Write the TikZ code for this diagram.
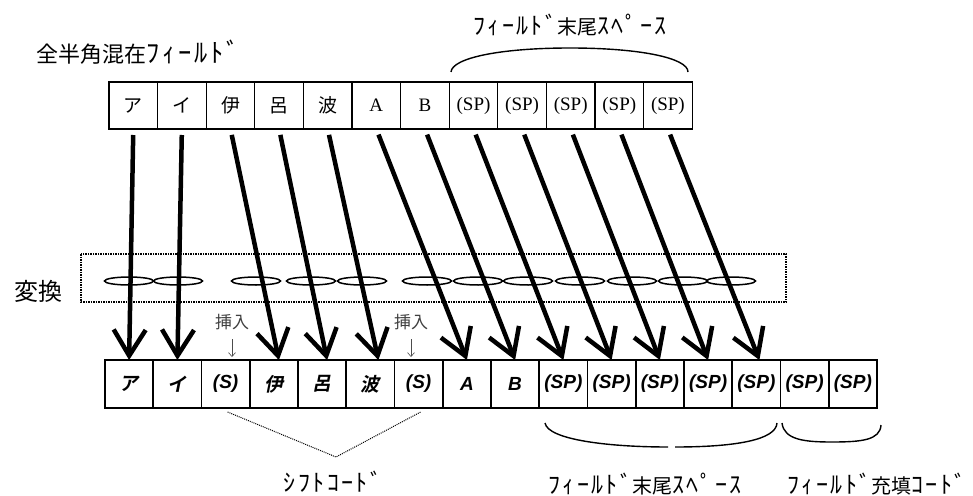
\documentclass[tikz,border=0pt]{standalone}
\usepackage{fontspec}
\setmainfont{Liberation Serif}
\newfontfamily\jp{Noto Sans CJK JP}
\newfontfamily\jpb{Noto Sans CJK JP}[UprightFont=* Bold,FakeSlant=0.2]
\newfontfamily\hwfont{Noto Sans CJK JP}[Scale=1.2,LetterSpace=10]
\newfontfamily\goth{Liberation Sans}
\newcommand{\hw}[1]{{\hwfont #1}}
\newcommand{\latbi}[1]{{\goth\bfseries\itshape #1}}
\usetikzlibrary{arrows.meta}

\begin{document}
\begin{tikzpicture}[x=1pt,y=-1pt,
  topcell/.style={draw,line width=1.3pt,minimum width=48.6pt,minimum height=47pt,inner sep=0pt,outer sep=0pt,font=\fontsize{19}{22}\selectfont},
  botcell/.style={draw,line width=1.5pt,minimum width=48.25pt,minimum height=48pt,inner sep=0pt,outer sep=0pt,font=\jpb\fontsize{19}{22}\selectfont},
  conv/.style={line width=4.5pt,shorten <=6pt,-{Straight Barb[length=26pt,width=32pt]}},
  insarrow/.style={line width=0.6pt,black!70,-{Straight Barb[length=4pt,width=7pt]}},
  oval/.style={line width=1.5pt},
  curl/.style={line width=1.4pt},
  lbl/.style={inner sep=0pt,font=\jp\fontsize{20}{24}\selectfont}]
  \useasboundingbox (0,0) rectangle (973,495);

  % top
  %cells
  \node[topcell,at={(133.3,105.5)}] (t1) {\jp ア};
  \node[topcell,at={(181.9,105.5)}] (t2) {\jp イ};
  \node[topcell,at={(230.5,105.5)}] (t3) {\jp 伊};
  \node[topcell,at={(279.1,105.5)}] (t4) {\jp 呂};
  \node[topcell,at={(327.7,105.5)}] (t5) {\jp 波};
  \node[topcell,at={(376.3,105.5)}] (t6) {A};
  \node[topcell,at={(424.9,105.5)}] (t7) {B};
  \node[topcell,at={(473.5,105.5)}] (t8) {(SP)};
  \node[topcell,at={(522.1,105.5)}] (t9) {(SP)};
  \node[topcell,at={(570.7,105.5)}] (t10) {(SP)};
  \node[topcell,at={(619.3,105.5)}] (t11) {(SP)};
  \node[topcell,at={(667.9,105.5)}] (t12) {(SP)};
  %labels
  \node[lbl,at={(138,52)},font=\jp\fontsize{22}{26}\selectfont] (mixlbl) {全半角混在\hw{ﾌｨｰﾙﾄﾞ}};
  \node[lbl,at={(570,25)}] (toptail) {\hw{ﾌｨｰﾙﾄﾞ}末尾\hw{ｽﾍﾟｰｽ}};
  \draw[curl] (451,72) .. controls (452,58) and (500,48) .. (570,48) .. controls (640,48) and (688,58) .. (688,72);

  % middle
  \draw[densely dotted,line width=1.5pt] (81,254) rectangle (786,302);
  \node[lbl,at={(38,291)},font=\jp\fontsize{24}{28}\selectfont] (conv) {変換};
  %ovals
  \draw[oval] (129,281) ellipse (24.5 and 4);
  \draw[oval] (178,281) ellipse (24.5 and 4);
  \draw[oval] (256,281) ellipse (24.5 and 4);
  \draw[oval] (311,281) ellipse (24.5 and 4);
  \draw[oval] (362,281) ellipse (24.5 and 4);
  \draw[oval] (427,281) ellipse (24.5 and 4);
  \draw[oval] (478,281) ellipse (24.5 and 4);
  \draw[oval] (528,281) ellipse (24.5 and 4);
  \draw[oval] (580,281) ellipse (24.5 and 4);
  \draw[oval] (632,281) ellipse (24.5 and 4);
  \draw[oval] (683,281) ellipse (24.5 and 4);
  \draw[oval] (731,281) ellipse (24.5 and 4);

  % bottom
  %cells
  \node[botcell,at={(129.1,384)}] (b1) {ア};
  \node[botcell,at={(177.4,384)}] (b2) {イ};
  \node[botcell,at={(225.6,384)}] (b3) {\latbi{(S)}};
  \node[botcell,at={(273.9,384)}] (b4) {伊};
  \node[botcell,at={(322.1,384)}] (b5) {呂};
  \node[botcell,at={(370.4,384)}] (b6) {波};
  \node[botcell,at={(418.6,384)}] (b7) {\latbi{(S)}};
  \node[botcell,at={(466.9,384)}] (b8) {\latbi{A}};
  \node[botcell,at={(515.1,384)}] (b9) {\latbi{B}};
  \node[botcell,at={(563.4,384)}] (b10) {\latbi{(SP)}};
  \node[botcell,at={(611.6,384)}] (b11) {\latbi{(SP)}};
  \node[botcell,at={(659.9,384)}] (b12) {\latbi{(SP)}};
  \node[botcell,at={(708.1,384)}] (b13) {\latbi{(SP)}};
  \node[botcell,at={(756.4,384)}] (b14) {\latbi{(SP)}};
  \node[botcell,at={(804.6,384)}] (b15) {\latbi{(SP)}};
  \node[botcell,at={(852.9,384)}] (b16) {\latbi{(SP)}};
  %inserts
  \node[lbl,at={(232,322)},font=\jp\fontsize{17}{20}\selectfont,black!75] (ins1) {挿入};
  \node[lbl,at={(411,322)},font=\jp\fontsize{17}{20}\selectfont,black!75] (ins2) {挿入};
  \coordinate (ins1tip) at (232,357);
  \coordinate (ins2tip) at (411,357);
  \draw[insarrow] ([yshift=-9pt]ins1.south) -- (ins1tip);
  \draw[insarrow] ([yshift=-9pt]ins2.south) -- (ins2tip);
  %labels
  \node[lbl,at={(333,482)}] (shiftlbl) {\hw{ｼﾌﾄｺｰﾄﾞ}};
  \node[lbl,at={(645,484)}] (taillbl) {\hw{ﾌｨｰﾙﾄﾞ}末尾\hw{ｽﾍﾟｰｽ}};
  \node[lbl,at={(877,484)}] (filllbl) {\hw{ﾌｨｰﾙﾄﾞ}充填\hw{ｺｰﾄﾞ}};
  \coordinate (shiftapex) at (336,457);
  \draw[densely dotted,line width=1pt] ([xshift=2pt,yshift=-4pt]b3.south) -- (shiftapex) -- ([xshift=2pt,yshift=-4pt]b7.south);
  \draw[curl] (545,423) .. controls (548,440) and (610,447) .. (668,447);
  \draw[curl] (675,447) .. controls (735,447) and (776,440) .. (777,423);
  \draw[curl] (782,423) .. controls (784,440) and (805,442) .. (832,442) .. controls (862,442) and (880,440) .. (881,425);

  % arrows
  \draw[conv] (t1.south) -- (b1.north);
  \draw[conv] (t2.south) -- (b2.north);
  \draw[conv] (t3.south) -- ([xshift=5pt]b4.north);
  \draw[conv] (t4.south) -- ([xshift=5pt]b5.north);
  \draw[conv] (t5.south) -- ([xshift=8pt]b6.north);
  \draw[conv] (t6.south) -- (b8.north);
  \draw[conv] (t7.south) -- (b9.north);
  \draw[conv] (t8.south) -- (b10.north);
  \draw[conv] (t9.south) -- (b11.north);
  \draw[conv] (t10.south) -- (b12.north);
  \draw[conv] (t11.south) -- (b13.north);
  \draw[conv] (t12.south) -- ([xshift=3pt]b14.north);
\end{tikzpicture}
\end{document}
